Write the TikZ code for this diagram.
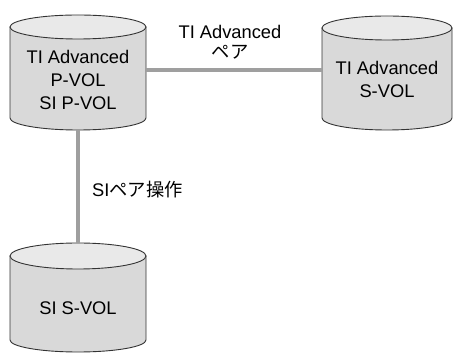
\documentclass[tikz,border=0pt]{standalone}
\usepackage{fontspec}
\setmainfont{Liberation Sans}
\newfontfamily\jpfont{Noto Sans CJK JP}
\usepackage{tikz}
\tikzset{
  volbody/.style={fill=gray!30, draw=black!80, line width=0.9pt},
  voltop/.style={fill=gray!17, draw=black!80, line width=0.9pt},
  voltext/.style={align=center, font=\fontsize{18.3}{23}\selectfont},
  pairline/.style={draw=gray!75, line width=4pt}
}

\begin{document}
\begin{tikzpicture}[x=1pt, y=1pt]
  \clip (0,0) rectangle (453,353);
  % volumes
  \path[volbody] (10,326) -- (10,235) arc (180:360:68 and 12) -- (146,326) -- cycle;
  \path[voltop] (78,326) ellipse (68 and 12);
  \path[volbody] (322,325) -- (322,235) arc (180:360:65 and 12) -- (452,325) -- cycle;
  \path[voltop] (387,325) ellipse (65 and 12);
  \path[volbody] (10,97) -- (10,13) arc (180:360:68 and 12) -- (146,97) -- cycle;
  \path[voltop] (78,97) ellipse (68 and 13);
  \node[voltext] (pvol) at (78,273) {TI Advanced\\P-VOL\\SI P-VOL};
  \node[voltext] (svol) at (387,274) {TI Advanced\\S-VOL};
  \node[voltext] (sisvol) at (78,45) {SI S-VOL};
  % connectors
  \coordinate (pvolE) at (146,283);
  \coordinate (svolW) at (322,283);
  \coordinate (pvolS) at (78,223);
  \coordinate (sisvolN) at (78,110);
  \draw[pairline] (pvolE) -- (svolW);
  \draw[pairline] (pvolS) -- (sisvolN);
  % labels
  \node[voltext, font=\fontsize{18.3}{20}\selectfont] (tipair) at (230,311) {TI Advanced\\{\jpfont ペア}};
  \node[voltext, anchor=west, inner sep=0pt] (sipair) at (92,163) {SI{\jpfont ペア操作}};
\end{tikzpicture}
\end{document}
